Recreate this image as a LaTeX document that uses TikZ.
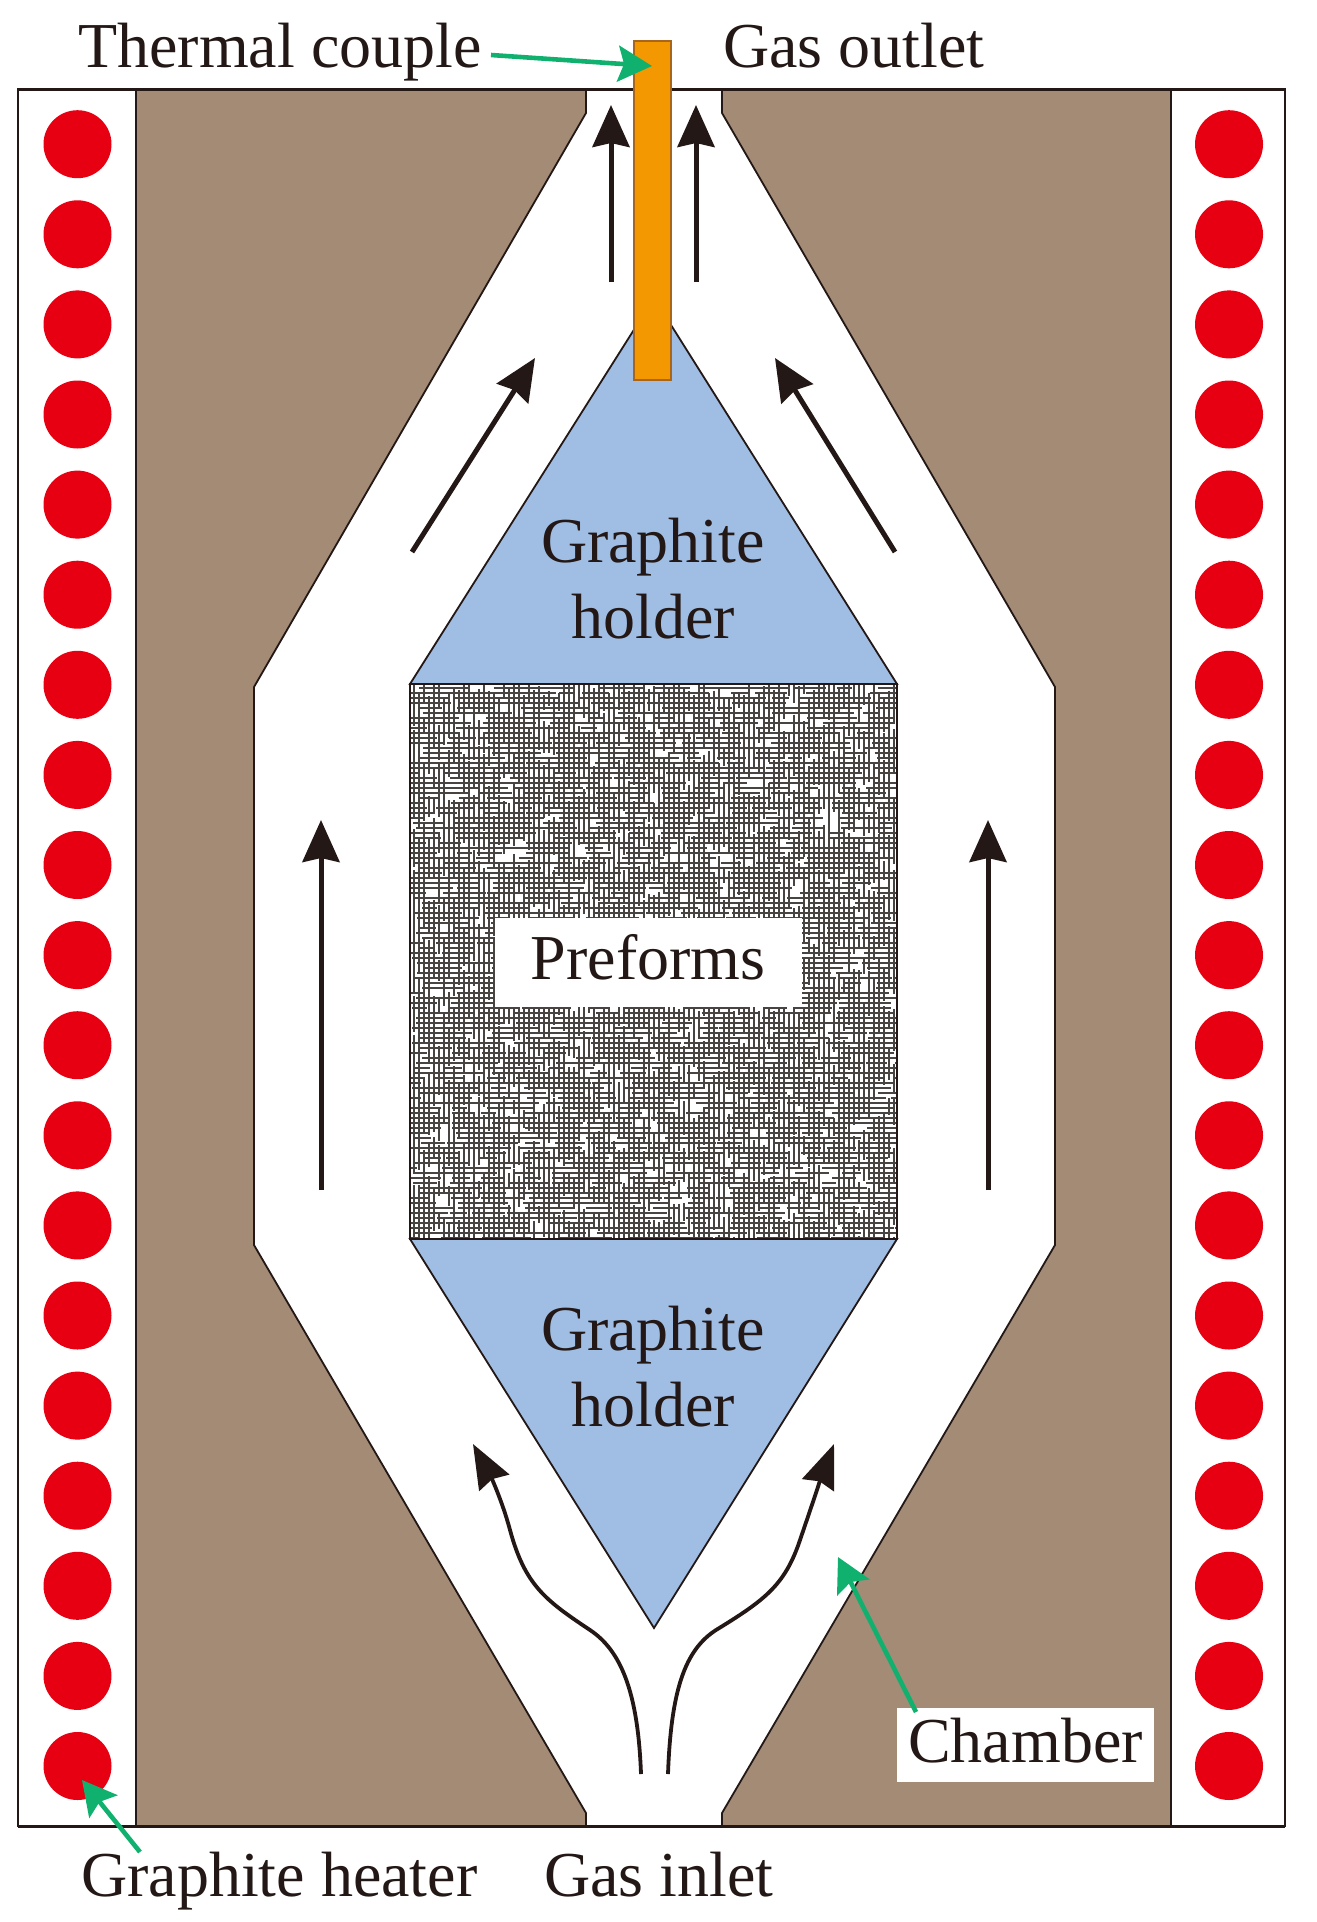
\documentclass[tikz,border=0pt]{standalone}
\usepackage{fontspec}
\setmainfont{Liberation Serif}
\usetikzlibrary{arrows.meta, positioning}
\definecolor{chamberFill}{RGB}{163,139,118}
\definecolor{holderFill}{RGB}{160,190,228}
\definecolor{coupleFill}{RGB}{243,152,0}
\definecolor{coupleLine}{RGB}{168,101,28}
\definecolor{heaterFill}{RGB}{230,0,18}
\definecolor{pointerLine}{RGB}{16,176,110}
\definecolor{ink}{RGB}{35,24,21}
\definecolor{weaveLine}{RGB}{72,68,66}
\tikzset{
  wall/.style={draw=ink, line width=1.8pt, fill=chamberFill, line join=miter},
  holder/.style={draw=ink, line width=1.8pt, fill=holderFill},
  heater/.style={circle, fill=heaterFill, minimum size=68pt, inner sep=0pt},
  caption/.style={font=\fontsize{64}{76}\selectfont, text=ink, inner sep=0pt, align=center},
  flow/.style={-{Stealth[length=42pt,width=37pt,inset=4pt]}, line width=5pt, draw=ink},
  bentflow/.style={-{Stealth[length=44pt,width=34pt,inset=4pt]}, line width=3.8pt, draw=ink},
  pointer/.style={-{Stealth[length=34pt,width=36pt,inset=6pt]}, line width=4.6pt, draw=pointerLine},
  weave/.style={draw=weaveLine, line width=1.5pt}
}
\begin{document}
\begin{tikzpicture}[x=1pt, y=-1pt]
  \useasboundingbox (0,0) rectangle (1317,1922);
  % furnace body
  \draw[ink, line width=2.2pt] (18,89) rectangle (1285,1826);
  \draw[wall] (136,89) -- (586,89) -- (586,113) -- (254,687) -- (254,1245) -- (586,1813) -- (586,1826) -- (136,1826) -- cycle;
  \draw[wall] (1171,89) -- (722,89) -- (722,113) -- (1055,687) -- (1055,1245) -- (722,1813) -- (722,1826) -- (1171,1826) -- cycle;
  \draw[ink, line width=3pt] (18,89) -- (1285,89);
  \draw[ink, line width=3pt] (18,1826) -- (1285,1826);

  % heaters
  \foreach \i in {0,...,18} {
    \node[heater] (heaterL\i) at (77.5,144.2+90.1*\i) {};
    \node[heater] (heaterR\i) at (1229,144.2+90.1*\i) {};
  }

  % holders
  \draw[holder] (654,298) -- (897,684) -- (410,684) -- cycle;
  \draw[holder] (410,1239) -- (897,1239) -- (654,1628) -- cycle;

  % preforms
  \begin{scope}
    \clip (410,684) rectangle (897,1239);
    \pgfmathsetseed{27}
    \foreach \y in {688,693,...,1238} {
      \foreach \x in {400,435,...,890} {
        \pgfmathsetmacro{\xa}{\x+rnd*24}
        \pgfmathsetmacro{\xb}{\xa+14+rnd*40}
        \draw[weave] (\xa,\y) -- (\xb,\y);
      }
    }
    \foreach \x in {414,419,...,896} {
      \foreach \y in {675,710,...,1235} {
        \pgfmathsetmacro{\ya}{\y+rnd*24}
        \pgfmathsetmacro{\yb}{\ya+14+rnd*40}
        \draw[weave] (\x,\ya) -- (\x,\yb);
      }
    }
  \end{scope}
  \draw[ink, line width=2.4pt] (410,684) rectangle (897,1239);
  \fill[white] (495,918) rectangle (802,1007);

  % thermal couple
  \draw[draw=coupleLine, line width=1.4pt, fill=coupleFill] (634,41) rectangle (671,380);
  \coordinate (coupleTip) at (652,66);

  % gas flow
  \coordinate (outletLa) at (611,282);
  \coordinate (outletLb) at (611,105);
  \coordinate (outletRa) at (696,282);
  \coordinate (outletRb) at (696,105);
  \coordinate (slantLa) at (412,552);
  \coordinate (slantLb) at (535,358);
  \coordinate (slantRa) at (895,552);
  \coordinate (slantRb) at (775,358);
  \coordinate (sideLa) at (321,1190);
  \coordinate (sideLb) at (321,820);
  \coordinate (sideRa) at (988,1190);
  \coordinate (sideRb) at (988,820);
  \draw[flow] (outletLa) -- (outletLb);
  \draw[flow] (outletRa) -- (outletRb);
  \draw[flow] (slantLa) -- (slantLb);
  \draw[flow] (slantRa) -- (slantRb);
  \draw[flow] (sideLa) -- (sideLb);
  \draw[flow] (sideRa) -- (sideRb);
  \draw[bentflow] (641,1774) .. controls (638,1690) and (620,1650) .. (590,1630) .. controls (545,1600) and (525,1585) .. (510,1530) .. controls (502,1500) and (490,1475) .. (473,1444);
  \draw[bentflow] (668,1774) .. controls (671,1690) and (685,1650) .. (716,1630) .. controls (765,1600) and (785,1585) .. (800,1540) .. controls (812,1505) and (822,1475) .. (834,1444);

  % labels
  \node[caption, anchor=base west] (couple) at (78,67) {Thermal couple};
  \node[caption, anchor=base west] (outlet) at (723,67) {Gas outlet};
  \node[caption, anchor=base west] (heaterText) at (81,1896) {Graphite heater};
  \node[caption, anchor=base west] (inlet) at (544,1896) {Gas inlet};
  \node[caption, anchor=base] (upperHolder) at (653,638) {Graphite\\holder};
  \node[caption, anchor=base] (lowerHolder) at (653,1426) {Graphite\\holder};
  \node[caption, anchor=base] (preforms) at (648,979) {Preforms};
  \node[caption, fill=white, text depth=10pt, minimum width=257pt, minimum height=74pt] (chamberBox) at (1025.5,1745) {Chamber};

  % pointers
  \coordinate (heaterTip) at (82,1780);
  \coordinate (chamberTip) at (838,1557);
  \coordinate (chamberFoot) at (916,1712);
  \coordinate (heaterFoot) at (140,1852);
  \coordinate (coupleFoot) at (491,55);
  \draw[pointer] (coupleFoot) -- (coupleTip);
  \draw[pointer] (heaterFoot) -- (heaterTip);
  \draw[pointer] (chamberFoot) -- (chamberTip);
\end{tikzpicture}
\end{document}
